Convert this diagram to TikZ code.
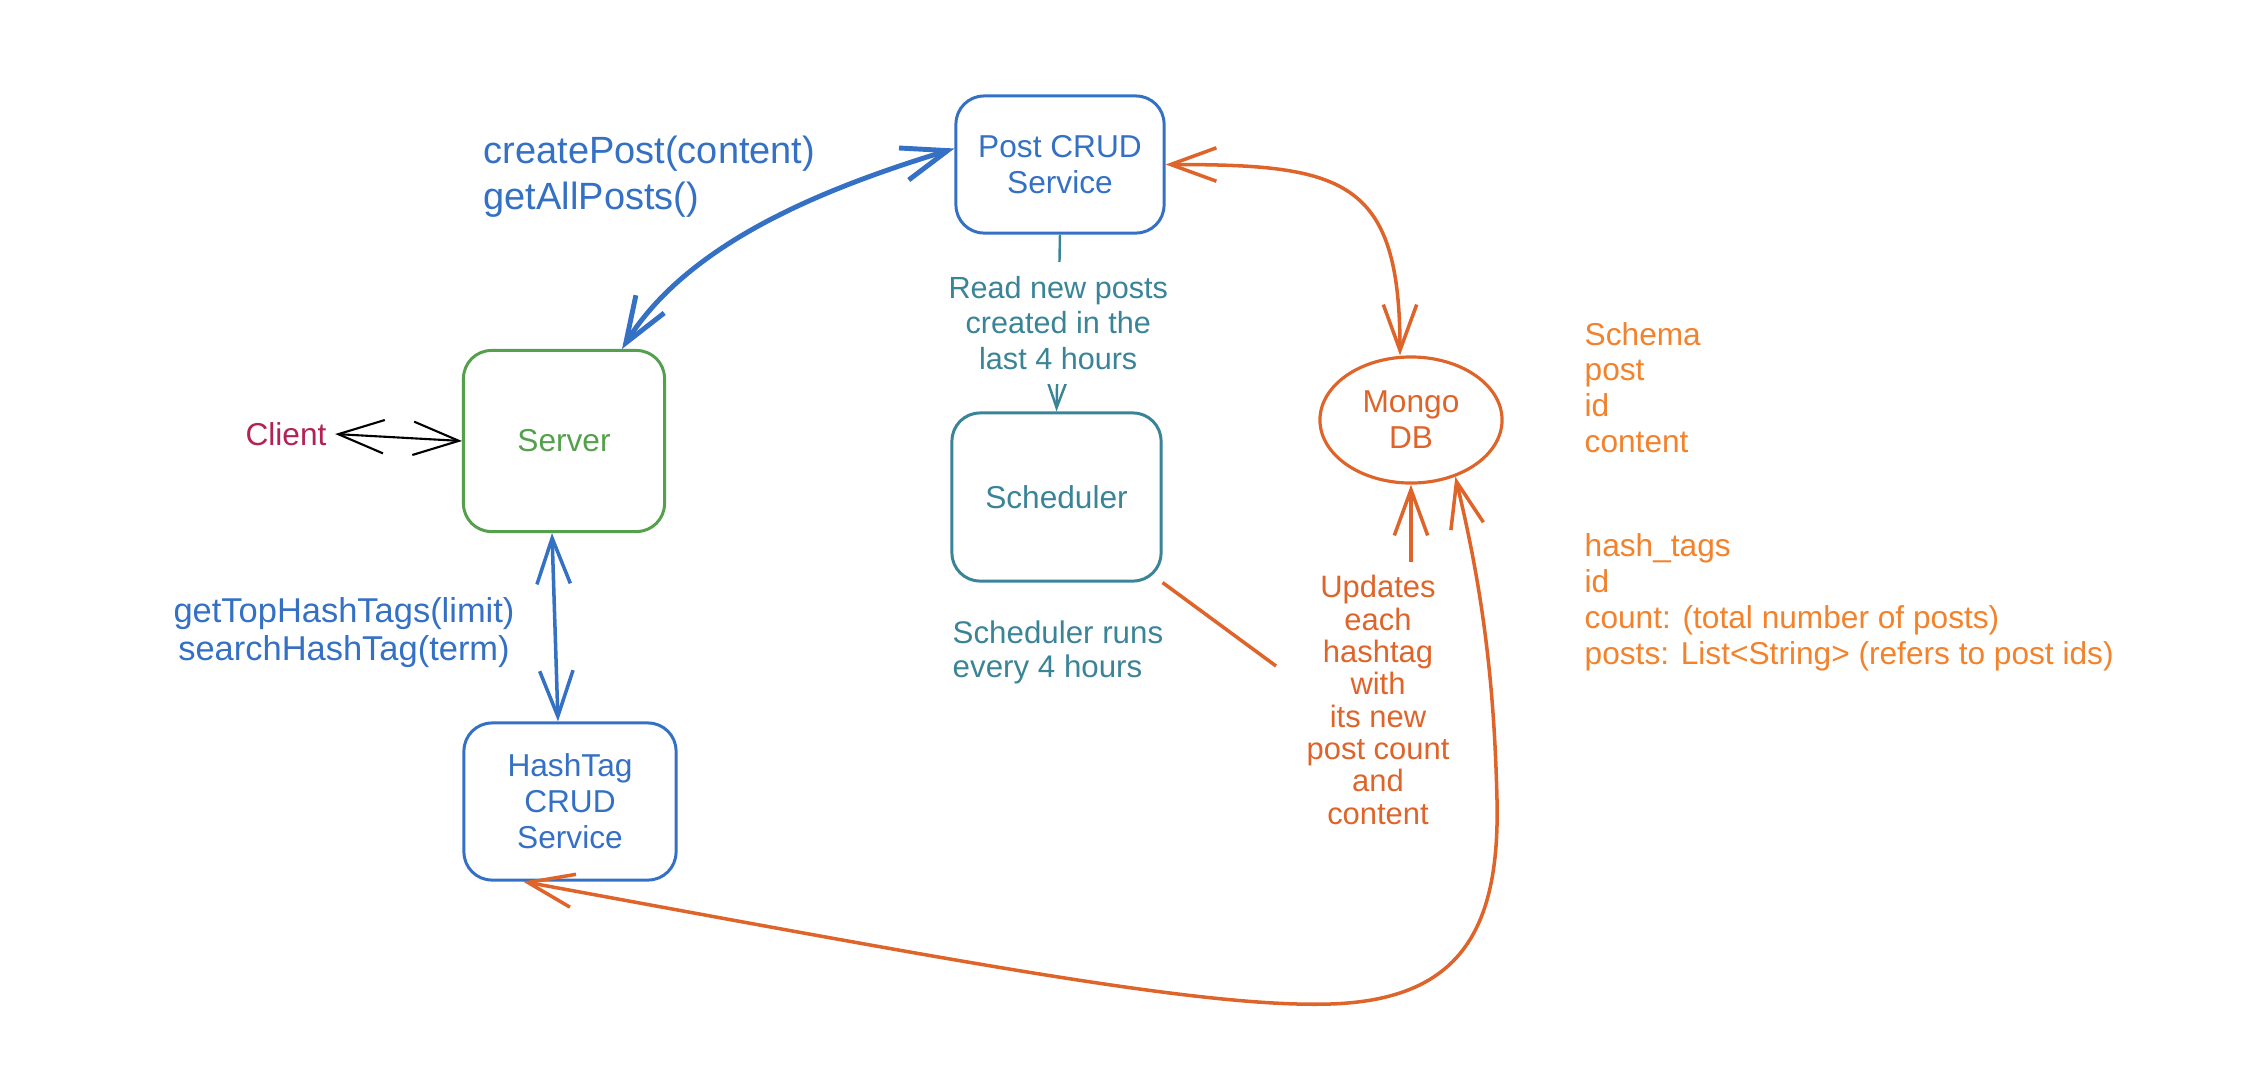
\documentclass[tikz,border=0pt]{standalone}
\usepackage{fontspec}
\setmainfont{Liberation Sans}
\usetikzlibrary{arrows.meta,shapes.geometric}
\definecolor{svcblue}{RGB}{52,112,196}
\definecolor{srvgreen}{RGB}{84,160,76}
\definecolor{schedteal}{RGB}{58,132,152}
\definecolor{dborange}{RGB}{222,100,42}
\definecolor{schemaorange}{RGB}{242,130,44}
\definecolor{clientred}{RGB}{178,34,86}

\begin{document}
\begin{tikzpicture}[x=0.01cm, y=0.01cm]
\tikzstyle{every node}+=[inner sep=0pt, align=center, font=\fontsize{9}{10.2}\selectfont]
\tikzstyle{box}=[draw, rounded corners=0.28cm, line width=0.85pt]
\tikzstyle{barbs}=[{Straight Barb[length=13pt,width=9.5pt]}-{Straight Barb[length=13pt,width=9.5pt]}]
\tikzstyle{barb}=[-{Straight Barb[length=13pt,width=9.5pt]}]
\useasboundingbox (0,0) rectangle (2254,-1078);
\node [box, svcblue, minimum width=2.08cm, minimum height=1.37cm] (post) at (1060,-164.5) {Post CRUD\\Service};
\node [box, srvgreen, minimum width=2.01cm, minimum height=1.81cm] (server) at (564,-441) {Server};
\node [box, schedteal, minimum width=2.09cm, minimum height=1.68cm] (sched) at (1056.5,-497) {Scheduler};
\node [box, svcblue, minimum width=2.12cm, minimum height=1.57cm] (hash) at (570,-801.5) {HashTag\\CRUD\\Service};
\node [draw, ellipse, dborange, line width=0.9pt, minimum width=1.82cm, minimum height=1.26cm] (mongo) at (1411,-420) {Mongo\\DB};
\node [clientred] (client) at (286,-434) {Client};
\node [svcblue, anchor=west, align=left, font=\fontsize{10.8}{13.1}\selectfont] (postapi) at (483,-177) {createPost(content)\\getAllPosts()};
\node [svcblue, font=\fontsize{9.8}{10.6}\selectfont] (hashapi) at (344,-632.5) {getTopHashTags(limit)\\searchHashTag(term)};
\node [schedteal, anchor=west, align=left, font=\fontsize{8.9}{9.8}\selectfont] (every) at (952,-652.5) {Scheduler runs\\every 4 hours};
\node [dborange, font=\fontsize{8.8}{9.2}\selectfont] (upd) at (1378,-700) {Updates\\each\\hashtag\\with\\its new\\post count\\and\\content};
\node [schemaorange, anchor=west, align=left] (postschema) at (1584,-387.5) {Schema\\post\\id\\content};
\node [schemaorange, anchor=west, align=left] (tagschema) at (1584,-602.5) {hash\_tags\\id\\count: (total number of posts)\\posts: List<String> (refers to post ids)};
\coordinate (updtop) at ([yshift=0.13cm]upd.north);
\coordinate (schedlink) at (1276,-666);
\draw [black, line width=0.6pt, barbs] ([xshift=0.08cm]client.east) -- (server.west);
\draw [svcblue, line width=1.4pt, barbs] ([xshift=0.58cm]server.north) to [out=58, in=197, looseness=0.85] ([yshift=0.16cm]post.west);
\draw [svcblue, line width=1pt, barbs] ([xshift=-0.12cm]server.south) -- ([xshift=-0.12cm]hash.north);
\draw [schedteal, line width=0.7pt, -{Straight Barb[length=7pt,width=5pt]}] (post.south) -- node [fill=white, inner xsep=2pt, inner ysep=4pt, font=\fontsize{8.7}{10.2}\selectfont] {Read new posts\\created in the\\last 4 hours} (sched.north);
\draw [dborange, line width=1pt, barbs] (post.east) to [out=0, in=90, looseness=1.5] ([xshift=-0.11cm]mongo.north);
\draw [dborange, line width=1pt, barb] (updtop -| mongo.south) -- (mongo.south);
\draw [dborange, line width=1pt] (sched.south east) -- (schedlink);
\draw [dborange, line width=1pt, barbs] ([xshift=-0.47cm]hash.south) .. controls (950,-960) and (1200,-1008) .. (1330,-1004) .. controls (1460,-1000) and (1500,-930) .. (1497,-800) .. controls (1494,-670) and (1480,-580) .. (mongo.-52);
\end{tikzpicture}
\end{document}
